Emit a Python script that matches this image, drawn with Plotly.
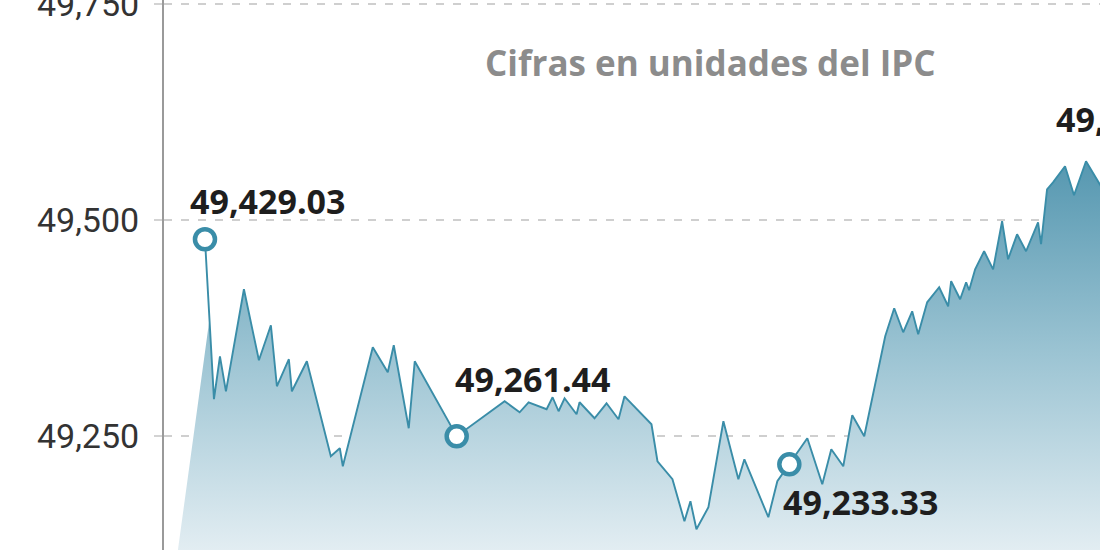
import plotly.graph_objects as go

# Trading-session index (x) and IPC level (y)
session = [0, 3, 5, 7, 13, 18, 22, 24, 28, 29, 34, 42, 45, 46, 56, 61, 63, 68, 70, 84,
           100, 105, 108, 114, 116, 118, 120, 124, 125, 130, 134, 138, 140, 149, 151, 156,
           160, 162, 164, 168, 173, 178, 180, 188, 191, 195, 201, 206, 209, 213, 216, 220,
           227, 230, 233, 236, 238, 241, 245, 248, 249, 252, 254, 255, 257, 260, 263, 266,
           268, 271, 274, 278, 279, 281, 283, 287, 290, 294, 299, 301]
ipc = [49477.7, 49292.5, 49342.2, 49301.7, 49419.8, 49337.6, 49378.1, 49307.5, 49338.8, 49301.7,
       49336.5, 49226.5, 49235.8, 49214.9, 49352.7, 49323.7, 49355.0, 49258.9, 49336.5, 49249.7,
       49290.2, 49277.4, 49289.0, 49280.9, 49294.8, 49278.6, 49293.6, 49275.1, 49289.0, 49270.5,
       49287.8, 49269.3, 49295.9, 49263.5, 49220.7, 49199.9, 49151.3, 49174.4, 49142.0, 49167.5,
       49267.0, 49199.9, 49223.0, 49155.9, 49197.6, 49217.2, 49247.3, 49194.1, 49234.6, 49214.9,
       49274.0, 49249.7, 49365.4, 49397.8, 49370.0, 49394.3, 49367.7, 49404.7, 49422.1, 49400.1,
       49429.1, 49408.2, 49427.9, 49418.6, 49442.9, 49463.8, 49442.9, 49498.5, 49454.5, 49483.4,
       49463.8, 49497.3, 49471.9, 49535.5, 49543.6, 49562.2, 49528.6, 49567.9, 49539.0, 49556.4]

# Highlighted points and their labels
marked_idx = [0, 19, 45]
marked_text = ["49,429.03", "49,261.44", "49,233.33"]
peak_idx = 77
peak_text = "49,575.32"

y_ticks = [49250, 49500, 49750]
y_range = [49118, 49754.6]
x_range = [-13.67, 298.67]
fill_base = 49000

LINE = "#3a8da8"

# fill polygon: slanted left edge from the axis base up to the line
mid_x = (session[0] + session[1]) / 2
mid_y = (ipc[0] + ipc[1]) / 2
fx = [x_range[0], mid_x] + session[1:] + [session[-1]]
fy = [fill_base, mid_y] + ipc[1:] + [fill_base]

fig = go.Figure()
fig.add_trace(go.Scatter(
    x=fx, y=fy, mode="lines", fill="toself", line=dict(width=0),
    fillgradient=dict(type="vertical", start=y_range[0], stop=49570,
                      colorscale=[[0, "#e2edf2"], [0.5, "#9cc4d3"], [1, "#5597b0"]]),
    hoverinfo="skip", showlegend=False))
fig.add_trace(go.Scatter(
    x=session, y=ipc, mode="lines", line=dict(color=LINE, width=1.9),
    hoverinfo="skip", showlegend=False))
fig.add_trace(go.Scatter(
    x=[session[i] for i in marked_idx], y=[ipc[i] for i in marked_idx], mode="markers",
    marker=dict(size=20, color="white", line=dict(color=LINE, width=4.5)),
    hoverinfo="skip", showlegend=False))

label_font = dict(family="Open Sans", size=34, color="#1e1e1e")
shifts = [(-17, 38), (-4, 57), (-8, -38)]
for i, txt, (dx, dy) in zip(marked_idx, marked_text, shifts):
    fig.add_annotation(x=session[i], y=ipc[i], text="<b>%s</b>" % txt, showarrow=False,
                       xanchor="left", yanchor="middle", xshift=dx, yshift=dy, font=label_font)
fig.add_annotation(x=session[peak_idx], y=ipc[peak_idx], text="<b>%s</b>" % peak_text,
                   showarrow=False, xanchor="left", yanchor="middle", xshift=-32, yshift=42,
                   font=label_font)

fig.add_annotation(xref="paper", yref="paper", x=0.584, y=0.887,
                   text="<b>Cifras en unidades del IPC</b>", showarrow=False,
                   xanchor="center", yanchor="middle",
                   font=dict(family="Open Sans", size=35, color="#8c8c8c"))

fig.update_layout(
    width=1100, height=550, margin=dict(l=164, r=0, t=0, b=0, autoexpand=False),
    paper_bgcolor="white", plot_bgcolor="white",
    xaxis=dict(range=x_range, showgrid=False, showticklabels=False, zeroline=False,
               showline=False, ticks="", automargin=False),
    yaxis=dict(range=y_range, tickvals=y_ticks, tickformat=",d", showgrid=True,
               gridcolor="#cfcfcf", gridwidth=2, griddash="8px,9px", zeroline=False,
               showline=True, linecolor="#9a9a9a", linewidth=2, automargin=False,
               ticks="outside", ticklen=8, tickwidth=2, tickcolor="#d3d3d3",
               ticklabelstandoff=8, ticklabeloverflow="allow",
               tickfont=dict(family="Roboto", size=34, color="#333333")),
)
fig.write_html("out.html", config={"displayModeBar": False},
               post_script="document.body.style.margin='0';document.body.style.overflow='hidden';")
